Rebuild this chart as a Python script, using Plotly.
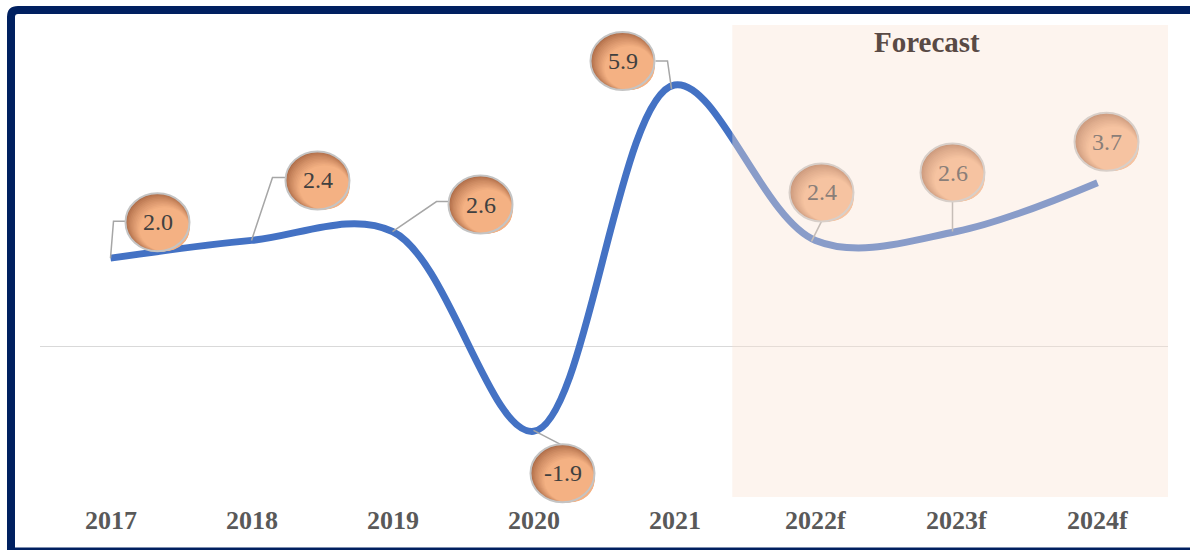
import plotly.graph_objects as go

# ---------------- data ----------------
years = ["2017", "2018", "2019", "2020", "2021", "2022f", "2023f", "2024f"]
growth = [2.0, 2.4, 2.6, -1.9, 5.9, 2.4, 2.6, 3.7]
value_labels = ["2.0", "2.4", "2.6", "-1.9", "5.9", "2.4", "2.6", "3.7"]
is_forecast = [False, False, False, False, False, True, True, True]
forecast_title = "Forecast"

# ---------------- styling / placement ----------------
FONT = "Palatino Linotype, Book Antiqua, Palatino, Liberation Serif, serif"
LINE_BLUE = "#4472C4"
NAVY = "#002060"
L, R, T, B = 40, 22, 25, 38
W, H = 1190, 550
PW, PH = W - L - R, H - T - B

# bubble centre offsets from the data point, in pixels (+y up)
label_dx = [47, 66, 88, 29, -52, 6, -4, 9]
label_dy = [36, 60, 27, -42, 24, 48, 59, 41]
RX, RY = 32, 29
# leader line vertices relative to data point (pixels, +y up)
leaders = [
    [(0, 0), (3, 37), (16, 37)],
    [(0, 0), (21, 63), (35, 63)],
    [(0, 0), (44, 30), (57, 30)],
    [(0, 1), (27, -13)],
    [(-3, -4), (-7, 24), (-19, 24)],
    [(-4, -1), (6, 19)],
    [(-4, 0), (-4, 30)],
    [],
]


def px2paper(px, py):
    return (px - L) / PW, (T + PH - py) / PH


def lerp(c1, c2, t):
    return tuple(round(a + (b - a) * t) for a, b in zip(c1, c2))


fig = go.Figure()
fig.add_trace(go.Scatter(
    x=years, y=growth, mode="lines",
    line=dict(color=LINE_BLUE, width=7, shape="spline", smoothing=1.0),
    hoverinfo="skip", showlegend=False,
))

shapes = []
# leader lines (anchored at category index i, value growth[i])
for i, pts in enumerate(leaders):
    if not pts:
        continue
    path = "M " + " L ".join(f"{x} {y}" for x, y in pts)
    shapes.append(dict(
        type="path", xref="x", yref="y", xsizemode="pixel", ysizemode="pixel",
        xanchor=i, yanchor=growth[i], path=path,
        line=dict(color="#A6A6A6", width=1.5), layer="above",
    ))

# gradient bubbles (stepped)
dark = (172, 106, 70)
light = (244, 177, 131)
N = 10
STEP = 0.7
for i in range(len(years)):
    cx, cy = label_dx[i], label_dy[i]
    for k in range(N + 1):
        d = k * STEP
        t = (k / N) ** 0.75
        c = lerp(dark, light, t)
        shapes.append(dict(
            type="circle", xref="x", yref="y", xsizemode="pixel", ysizemode="pixel",
            xanchor=i, yanchor=growth[i],
            x0=cx - RX + 2 * d, x1=cx + RX, y0=cy - RY, y1=cy + RY - 2 * d,
            fillcolor=f"rgb{c}", line=dict(width=0), layer="above",
        ))
    shapes.append(dict(
        type="circle", xref="x", yref="y", xsizemode="pixel", ysizemode="pixel",
        xanchor=i, yanchor=growth[i],
        x0=cx - RX, x1=cx + RX, y0=cy - RY, y1=cy + RY,
        fillcolor="rgba(0,0,0,0)", line=dict(color="#C4C4C4", width=2), layer="above",
    ))

# forecast overlay (fades everything beneath it)
_, rect_y0 = px2paper(0, 497)
_, rect_y1 = px2paper(0, 25)
shapes.append(dict(
    type="rect", xref="x", yref="paper", x0=4.41, x1=7.5, y0=rect_y0, y1=rect_y1,
    fillcolor="rgba(250,225,210,0.38)", line=dict(width=0), layer="above",
))

# navy frame
x_l, _ = px2paper(11, 0)
x_r, _ = px2paper(1205, 0)
_, y_t = px2paper(0, 10)
_, y_b = px2paper(0, 560)
x_c, _ = px2paper(18, 0)
_, y_c = px2paper(0, 17)
shapes.append(dict(
    type="path", xref="paper", yref="paper",
    path=f"M {x_l} {y_b} L {x_l} {y_c} Q {x_l} {y_t} {x_c} {y_t} L {x_r} {y_t}",
    line=dict(color=NAVY, width=8), layer="above",
))
_, y_bb = px2paper(0, 549)
x_0, _ = px2paper(8, 0)
shapes.append(dict(
    type="line", xref="paper", yref="paper", x0=x_0, x1=x_r, y0=y_bb, y1=y_bb,
    line=dict(color=NAVY, width=3), layer="above",
))

annotations = []
for i in range(len(years)):
    col = "rgb(138,126,120)" if is_forecast[i] else "#404040"
    annotations.append(dict(
        x=i, y=growth[i], xref="x", yref="y",
        xshift=label_dx[i], yshift=label_dy[i], text=value_labels[i],
        showarrow=False, font=dict(family=FONT, size=24, color=col),
        xanchor="center", yanchor="middle",
    ))
# category labels (drawn as annotations so the plot area can extend under the bubbles)
_, tick_y = px2paper(0, 520)
for i, yr in enumerate(years):
    annotations.append(dict(
        x=i, y=tick_y, xref="x", yref="paper", text=f"<b>{yr}</b>",
        showarrow=False, font=dict(family=FONT, size=26, color="#595959"),
        xanchor="center", yanchor="middle",
    ))
_, title_y = px2paper(0, 42)
annotations.append(dict(
    x=5.79, y=title_y, xref="x", yref="paper", text=f"<b>{forecast_title}</b>",
    showarrow=False, font=dict(family=FONT, size=29, color="#594A45"),
    xanchor="center", yanchor="middle",
))

fig.update_layout(
    width=W, height=H, margin=dict(l=L, r=R, t=T, b=B),
    paper_bgcolor="white", plot_bgcolor="white",
    shapes=shapes, annotations=annotations, showlegend=False,
    xaxis=dict(
        type="category", range=[-0.5, 7.5], showgrid=False, zeroline=False,
        showline=False, ticks="", showticklabels=False,
    ),
    yaxis=dict(
        range=[-3.716, 7.25], showgrid=False, zeroline=True, zerolinecolor="#D9D9D9",
        zerolinewidth=1.3, showticklabels=False, ticks="", showline=False,
    ),
)

fig.write_html("out.html")
